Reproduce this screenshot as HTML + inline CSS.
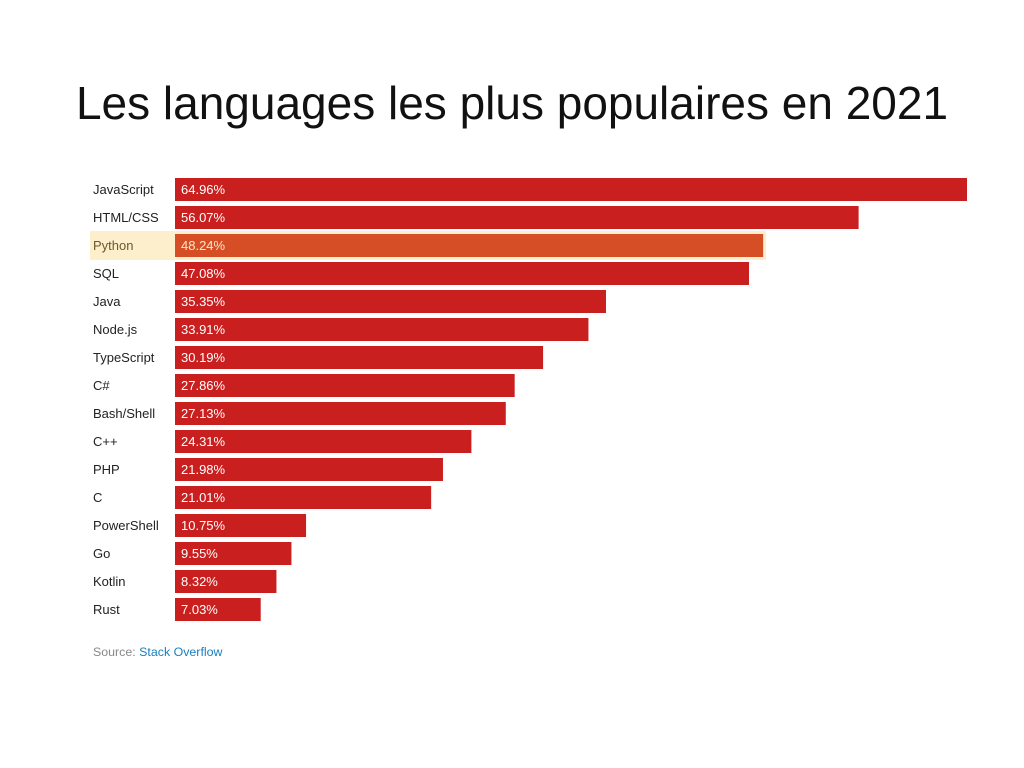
<!DOCTYPE html>
<html><head><meta charset="utf-8"><style>
body{margin:0;width:1024px;height:768px;background:#fff;overflow:hidden;font-family:"Liberation Sans",sans-serif;}
#title{position:absolute;left:0;width:1024px;top:76px;text-align:center;font-size:46px;color:#111;}
#src{position:absolute;left:93px;top:645px;font-size:12.4px;color:#888;}
#src span{color:#1a7fc1;}
</style></head><body>
<div id="title">Les languages les plus populaires en 2021</div>
<svg id="chart" width="1024" height="768" style="position:absolute;left:0;top:0"></svg>
<div id="src">Source: <span>Stack Overflow</span></div>
<script>
const categories=["JavaScript","HTML/CSS","Python","SQL","Java","Node.js","TypeScript","C#","Bash/Shell","C++","PHP","C","PowerShell","Go","Kotlin","Rust"];
const values=[64.96,56.07,48.24,47.08,35.35,33.91,30.19,27.86,27.13,24.31,21.98,21.01,10.75,9.55,8.32,7.03];
const highlighted=["Python"];
const svg=document.getElementById('chart');
const NS="http://www.w3.org/2000/svg";
const x0=175,pxPer=792/64.96,y0=178,step=28,bh=23;
function xs(v){return v*pxPer;}
function ys(i){return y0+i*step;}
categories.forEach((c,i)=>{
  const hl=highlighted.includes(c);
  const y=ys(i);
  if(hl){
    const bg=document.createElementNS(NS,'rect');
    
    
    bg.setAttribute('x',90);bg.setAttribute('y',y-3);bg.setAttribute('width',x0+xs(values[i])+3-90);bg.setAttribute('height',bh+6);bg.setAttribute('fill','#fdefcc');
    svg.appendChild(bg);
  }
  const r=document.createElementNS(NS,'rect');
  
  
  r.setAttribute('x',x0);r.setAttribute('y',y);r.setAttribute('width',xs(values[i]));r.setAttribute('height',bh);
  r.setAttribute('fill',hl?'#d64e26':'#c91f1f');
  svg.appendChild(r);
  const t=document.createElementNS(NS,'text');
  
  
  t.setAttribute('x',93);t.setAttribute('y',y+16);t.setAttribute('font-size','13');t.setAttribute('fill',hl?'#6b5a2a':'#222');
  t.textContent=c;svg.appendChild(t);
  const v=document.createElementNS(NS,'text');
  
  
  v.setAttribute('x',181);v.setAttribute('y',y+16);v.setAttribute('font-size','13');v.setAttribute('fill',hl?'#fde8c8':'#fff');
  v.textContent=values[i].toFixed(2)+'%';svg.appendChild(v);
});
</script>
</body></html>
